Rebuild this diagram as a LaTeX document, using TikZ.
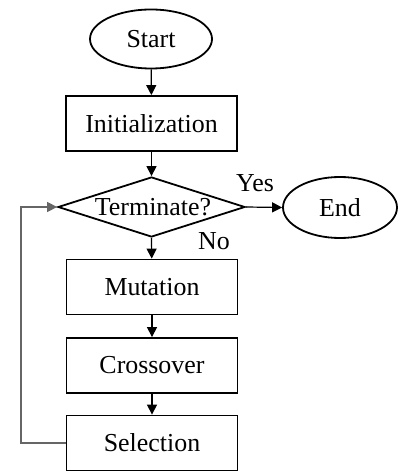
\documentclass[tikz,border=0pt]{standalone}
\usepackage{fontspec}
\setmainfont{Liberation Serif}
\usetikzlibrary{arrows.meta,shapes.geometric}
\begin{document}
\begin{tikzpicture}[x=1bp,y=-1bp,
  txt/.style={font=\fontsize{26}{30}\selectfont},
  box/.style={draw, line width=1.8bp, minimum width=171bp, minimum height=55bp, inner sep=0pt, txt},
  term/.style={draw, ellipse, line width=1.8bp, inner sep=0pt, txt},
  dec/.style={draw, diamond, line width=1.8bp, inner sep=0pt, minimum width=187bp, minimum height=60bp},
  flow/.style={-{Triangle[length=10bp,width=10bp]}, line width=1.2bp},
  back/.style={flow, draw=black!60, line width=1.5bp}]
\useasboundingbox (0,0) rectangle (398,472);
\node[term, minimum width=122bp, minimum height=59bp] (start) at (151,39) {Start};
\node[box] (init) at (151.5,123.5) {Initialization};
\node[dec] (dec) at (151.5,207) {};
\node[txt] (dtext) at (153,207) {Terminate?};
\node[term, minimum width=114bp, minimum height=61bp] (end) at (340,207.5) {End};
\node[box] (mut) at (152,287) {Mutation};
\node[box] (cross) at (152,365.5) {Crossover};
\node[box] (sel) at (152,443) {Selection};
\node[txt] (yes) at (255,183) {Yes};
\node[txt] (no) at (214,241) {No};
\coordinate (corner) at (21,443);
\draw[flow] (start) -- (init);
\draw[flow] (init) -- (dec.north);
\draw[flow] (dec.east) -- (end.west);
\draw[flow] (dec.south) -- (mut);
\draw[flow] (mut) -- (cross);
\draw[flow] (cross) -- (sel);
\draw[back] (sel.west) -- (corner) |- (dec.west);
\end{tikzpicture}
\end{document}
